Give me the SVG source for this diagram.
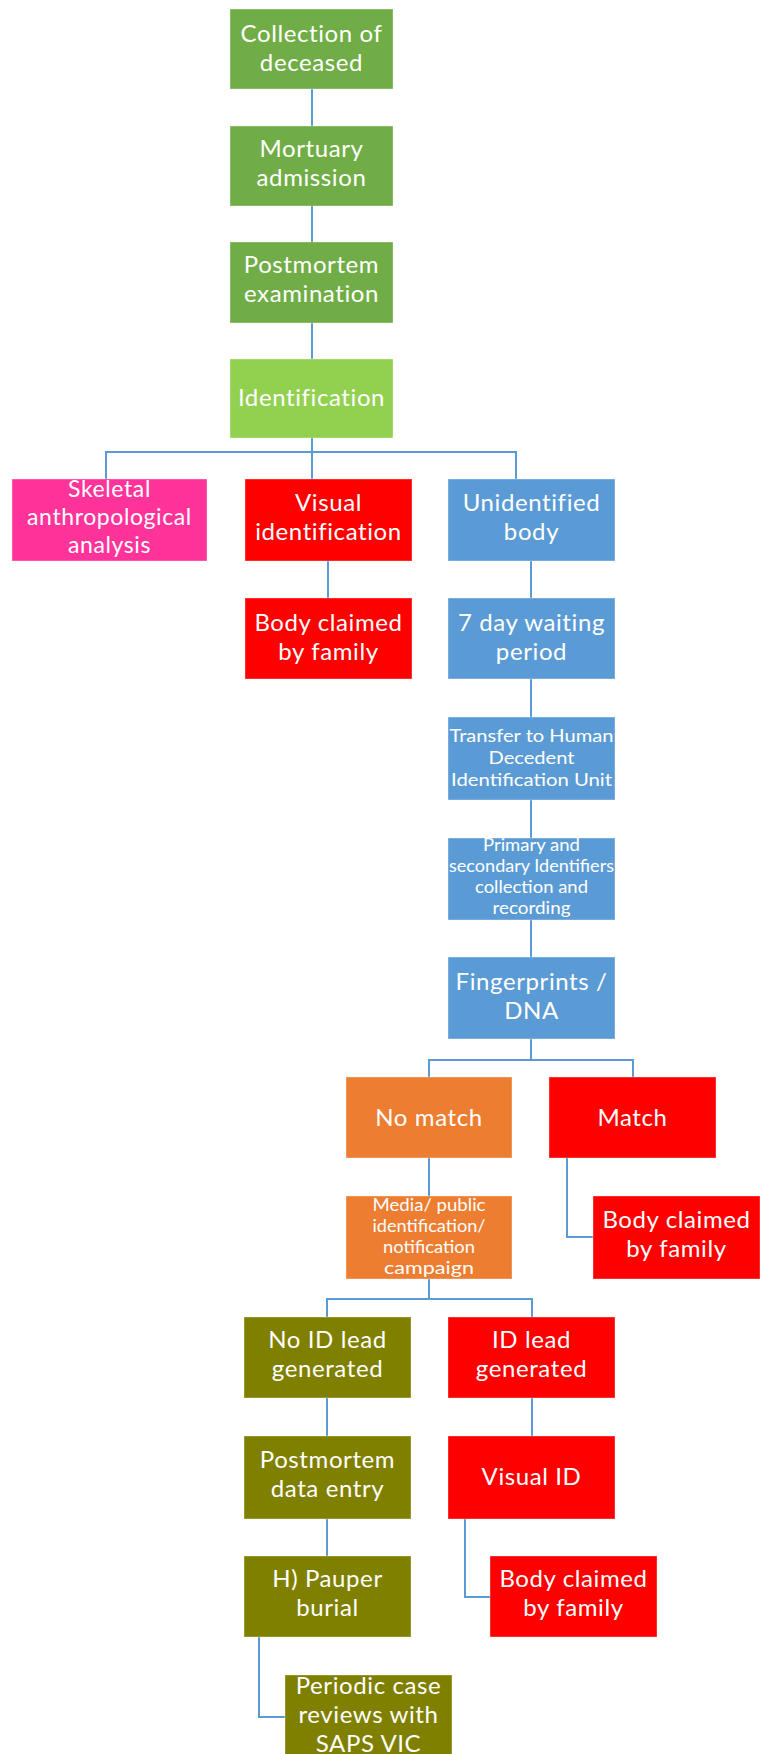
<svg xmlns="http://www.w3.org/2000/svg" width="766" height="1754" viewBox="0 0 766 1754">
<style>
  .box { stroke: #ffffff; stroke-opacity: 0.35; stroke-width: 1; }
  .dg { fill: #70AD47; }
  .lg { fill: #92D050; }
  .pk { fill: #FF3399; }
  .rd { fill: #FF0000; }
  .bl { fill: #5B9BD5; }
  .or { fill: #ED7D31; }
  .ol { fill: #808000; }
  text { fill: #ffffff; font-family: Lato, "Open Sans", "Liberation Sans", sans-serif; text-anchor: middle; }
  .t24 { font-size: 24px; letter-spacing: 0.6px; }
  .t23 { font-size: 23px; letter-spacing: 0.6px; }
  .t18 { font-size: 18px; }
  .t175 { font-size: 17.5px; }
  .conn { fill: none; stroke: #5B9BD5; stroke-width: 2; }
</style>
<rect width="766" height="1754" fill="#ffffff"/>

<g id="connectors">
  <path class="conn" d="M312,89 V126"/>
  <path class="conn" d="M312,206 V242"/>
  <path class="conn" d="M312,323 V359"/>
  <path class="conn" d="M312,438 V479"/>
  <path class="conn" d="M106,479 V452 H516 V479"/>
  <path class="conn" d="M328,561 V598"/>
  <path class="conn" d="M531,561 V598"/>
  <path class="conn" d="M531,679 V717"/>
  <path class="conn" d="M531,800 V838"/>
  <path class="conn" d="M531,920 V957"/>
  <path class="conn" d="M531,1039 V1060"/>
  <path class="conn" d="M429,1077 V1060 H633 V1077"/>
  <path class="conn" d="M429,1158 V1196"/>
  <path class="conn" d="M567,1158 V1237 H593"/>
  <path class="conn" d="M429,1279 V1299"/>
  <path class="conn" d="M327,1317 V1299 H532 V1317"/>
  <path class="conn" d="M327,1398 V1436"/>
  <path class="conn" d="M327,1519 V1556"/>
  <path class="conn" d="M532,1398 V1436"/>
  <path class="conn" d="M465,1519 V1597 H490"/>
  <path class="conn" d="M259,1637 V1717 H285"/>
</g>

<g id="n-collection">
  <rect class="box dg" x="230" y="9" width="163" height="80"/>
  <text class="t24" x="311.5" y="42">Collection of</text>
  <text class="t24" x="311.5" y="71">deceased</text>
</g>
<g id="n-mortuary">
  <rect class="box dg" x="230" y="126" width="163" height="80"/>
  <text class="t24" x="311.5" y="157">Mortuary</text>
  <text class="t24" x="311.5" y="186">admission</text>
</g>
<g id="n-postmortem">
  <rect class="box dg" x="230" y="242" width="163" height="81"/>
  <text class="t24" x="311.5" y="273">Postmortem</text>
  <text class="t24" x="311.5" y="302">examination</text>
</g>
<g id="n-identification">
  <rect class="box lg" x="230" y="359" width="163" height="79"/>
  <text class="t24" x="311.5" y="406">Identification</text>
</g>

<g id="n-skeletal">
  <rect class="box pk" x="12" y="479" width="195" height="82"/>
  <text class="t23" x="109.5" y="497">Skeletal</text>
  <text class="t23" x="109.5" y="525">anthropological</text>
  <text class="t23" x="109.5" y="553">analysis</text>
</g>
<g id="n-visual-identification">
  <rect class="box rd" x="245" y="479" width="167" height="82"/>
  <text class="t24" x="328.5" y="511">Visual</text>
  <text class="t24" x="328.5" y="540">identification</text>
</g>
<g id="n-unidentified">
  <rect class="box bl" x="448" y="479" width="167" height="82"/>
  <text class="t24" x="531.5" y="511">Unidentified</text>
  <text class="t24" x="531.5" y="540">body</text>
</g>

<g id="n-claimed-1">
  <rect class="box rd" x="245" y="598" width="167" height="81"/>
  <text class="t24" x="328.5" y="631">Body claimed</text>
  <text class="t24" x="328.5" y="660">by family</text>
</g>
<g id="n-waiting">
  <rect class="box bl" x="448" y="598" width="167" height="81"/>
  <text class="t24" x="531.5" y="631">7 day waiting</text>
  <text class="t24" x="531.5" y="660">period</text>
</g>
<g id="n-transfer">
  <rect class="box bl" x="448" y="717" width="167" height="83"/>
  <text class="t18" x="531.5" y="742" textLength="164" lengthAdjust="spacingAndGlyphs">Transfer to Human</text>
  <text class="t18" x="531.5" y="764" textLength="86" lengthAdjust="spacingAndGlyphs">Decedent</text>
  <text class="t18" x="531.5" y="786" textLength="161" lengthAdjust="spacingAndGlyphs">Identification Unit</text>
</g>
<g id="n-primary">
  <rect class="box bl" x="448" y="838" width="167" height="82"/>
  <text class="t175" x="531.5" y="851" textLength="97" lengthAdjust="spacingAndGlyphs">Primary and</text>
  <text class="t175" x="531.5" y="872" textLength="165" lengthAdjust="spacingAndGlyphs">secondary Identifiers</text>
  <text class="t175" x="531.5" y="893" textLength="113" lengthAdjust="spacingAndGlyphs">collection and</text>
  <text class="t175" x="531.5" y="914" textLength="78" lengthAdjust="spacingAndGlyphs">recording</text>
</g>
<g id="n-fingerprints">
  <rect class="box bl" x="448" y="957" width="167" height="82"/>
  <text class="t24" x="531.5" y="990">Fingerprints /</text>
  <text class="t24" x="531.5" y="1019">DNA</text>
</g>

<g id="n-nomatch">
  <rect class="box or" x="346" y="1077" width="166" height="81"/>
  <text class="t24" x="429" y="1126">No match</text>
</g>
<g id="n-match">
  <rect class="box rd" x="549" y="1077" width="167" height="81"/>
  <text class="t24" x="632.5" y="1126">Match</text>
</g>
<g id="n-media">
  <rect class="box or" x="346" y="1196" width="166" height="83"/>
  <text class="t175" x="429" y="1211" textLength="113" lengthAdjust="spacingAndGlyphs">Media/ public</text>
  <text class="t175" x="429" y="1232" textLength="113" lengthAdjust="spacingAndGlyphs">identification/</text>
  <text class="t175" x="429" y="1253" textLength="92" lengthAdjust="spacingAndGlyphs">notification</text>
  <text class="t175" x="429" y="1274" textLength="90" lengthAdjust="spacingAndGlyphs">campaign</text>
</g>
<g id="n-claimed-2">
  <rect class="box rd" x="593" y="1196" width="167" height="83"/>
  <text class="t24" x="676.5" y="1228">Body claimed</text>
  <text class="t24" x="676.5" y="1257">by family</text>
</g>

<g id="n-noid">
  <rect class="box ol" x="244" y="1317" width="167" height="81"/>
  <text class="t24" x="327.5" y="1348">No ID lead</text>
  <text class="t24" x="327.5" y="1377">generated</text>
</g>
<g id="n-idlead">
  <rect class="box rd" x="448" y="1317" width="167" height="81"/>
  <text class="t24" x="531.5" y="1348">ID lead</text>
  <text class="t24" x="531.5" y="1377">generated</text>
</g>
<g id="n-pm-data">
  <rect class="box ol" x="244" y="1436" width="167" height="83"/>
  <text class="t24" x="327.5" y="1468">Postmortem</text>
  <text class="t24" x="327.5" y="1497">data entry</text>
</g>
<g id="n-visual-id">
  <rect class="box rd" x="448" y="1436" width="167" height="83"/>
  <text class="t24" x="531.5" y="1485">Visual ID</text>
</g>
<g id="n-pauper">
  <rect class="box ol" x="244" y="1556" width="167" height="81"/>
  <text class="t24" x="327.5" y="1587">H) Pauper</text>
  <text class="t24" x="327.5" y="1616">burial</text>
</g>
<g id="n-claimed-3">
  <rect class="box rd" x="490" y="1556" width="167" height="81"/>
  <text class="t24" x="573.5" y="1587">Body claimed</text>
  <text class="t24" x="573.5" y="1616">by family</text>
</g>
<g id="n-periodic">
  <rect class="box ol" x="285" y="1675" width="167" height="82"/>
  <text class="t24" x="368.5" y="1694">Periodic case</text>
  <text class="t24" x="368.5" y="1723">reviews with</text>
  <text class="t24" x="368.5" y="1752">SAPS VIC</text>
</g>
</svg>
